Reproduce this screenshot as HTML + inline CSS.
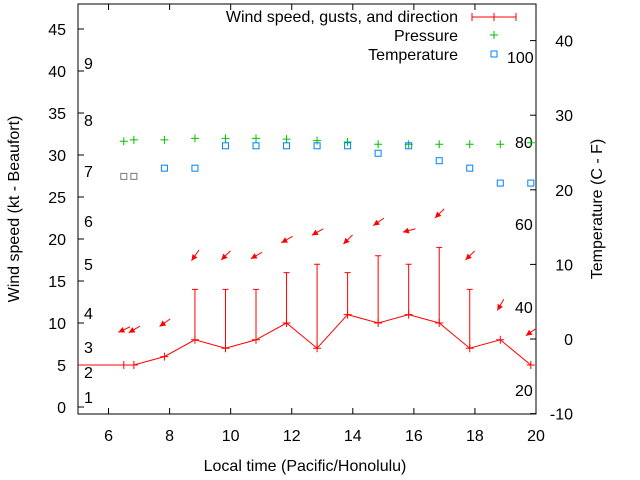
<!DOCTYPE html>
<html><head><meta charset="utf-8"><style>
body{margin:0;background:#fff;}
svg{display:block;font-family:"Liberation Sans",sans-serif;}
</style></head><body>
<svg id="chart" width="640" height="480" viewBox="0 0 640 480" xmlns="http://www.w3.org/2000/svg"></svg>
<script>
const times=[6.5,6.83,7.83,8.83,9.83,10.83,11.83,12.83,13.83,14.83,15.83,16.83,17.83,18.83,19.83];
const windSpeed=[5,5,6,8,7,8,10,7,11,10,11,10,7,8,5];
const gusts=[null,null,null,14,14,14,16,17,16,18,17,19,14,null,null];
const arrowPos=[9.2,9.2,10,18,18,18,19.9,20.8,19.9,22,21,23,18,12.1,8.9];
const windDir=[65,60,55,35,45,60,60,60,45,55,75,45,45,30,55];
const pressure=[26.5,26.7,26.7,26.9,26.9,26.9,26.8,26.6,26.4,26.1,26.1,26.1,26.1,26.1,26.3];
const temperature=[21.8,21.8,22.9,22.9,25.9,25.9,25.9,25.9,25.9,24.9,25.9,23.9,22.9,20.9,20.9];
const xTicks=[6,8,10,12,14,16,18,20];
const yTicks=[0,5,10,15,20,25,30,35,40,45];
const y2Ticks=[-10,0,10,20,30,40];
const beaufortLabels=[["1",397],["2",372],["3",347],["4",313],["5",264],["6",221],["7",171],["8",120],["9",63]];
const pressLabels=[["100",507,57],["80",515,142],["60",515,224],["40",515,307],["20",515,390]];

const L=78,R=536,T=4,B=414;
const FS=16;
const X=v=>L+(v-5)*(R-L)/15;
const Y=v=>407-v*8.4;
const Y2=v=>339-v*7.46;
const svg=document.getElementById('chart');
const NS='http://www.w3.org/2000/svg';
function mk(tag,attrs,parent){const e=document.createElementNS(NS,tag);for(const k in attrs)e.setAttribute(k,attrs[k]);(parent||svg).appendChild(e);return e;}
function txt(s,x,y,anchor,size,extra){const e=mk('text',Object.assign({x:x,y:y,'text-anchor':anchor||'middle','font-size':size||FS,fill:'#000'},extra||{}));e.textContent=s;return e;}

const fr=mk('rect',{x:L,y:T,width:R-L,height:B-T,fill:'none',stroke:'#000','stroke-width':1});



xTicks.forEach(v=>{
  const x=X(v);
  const t=mk('line',{x1:x,y1:B,x2:x,y2:B-6,stroke:'#000'});
  
  
  mk('line',{x1:x,y1:T,x2:x,y2:T+6,stroke:'#000'});
  const l=txt(String(v),x,441,'middle',FS);
  
  
});
yTicks.forEach(v=>{
  const y=Y(v);
  const t=mk('line',{x1:L,y1:y,x2:L+6,y2:y,stroke:'#000'});
  
  
  const l=txt(String(v),66,y+6,'end',FS);
  
  
});
y2Ticks.forEach(v=>{
  const y=Y2(v);
  const t=mk('line',{x1:R,y1:y,x2:R-6,y2:y,stroke:'#000'});
  
  
  const l=txt(String(v),573,y+6,'end',FS);
  
  
});
beaufortLabels.forEach(b=>{
  const l=txt(b[0],84,b[1]+6,'start',FS);
  
  
});
pressLabels.forEach(b=>{
  const l=txt(b[0],b[1],b[2]+6,'start',FS);
  
  
});

let t1=txt('Local time (Pacific/Honolulu)',305,471,'middle',FS);


let t2=txt('Wind speed (kt - Beaufort)',0,0,'middle',FS,{transform:'translate(19,209) rotate(-90)'});


let t3=txt('Temperature (C - F)',0,0,'middle',FS,{transform:'translate(602,209) rotate(-90)'});



let pts='M'+L+','+Y(windSpeed[0])+' '+times.map((t,i)=>'L'+X(t)+','+Y(windSpeed[i])).join(' ');
const wl=mk('path',{d:pts,fill:'none',stroke:'#f00','stroke-width':1});


times.forEach((t,i)=>{
  const x=X(t),y=Y(windSpeed[i]);
  const p=mk('path',{d:`M${x-4},${y}h8M${x},${y-4}v8`,stroke:'#f00'});
  
  
  if(gusts[i]!=null){
    const gy=Y(gusts[i]);
    const g=mk('path',{d:`M${x},${y}V${gy}M${x-3},${gy}h6`,stroke:'#f00',fill:'none'});
    
    
  }
  const a=windDir[i]*Math.PI/180;
  const dx=-Math.sin(a),dy=Math.cos(a);
  const cx=X(t),cy=Y(arrowPos[i]);
  const hx=cx+dx*6,hy=cy+dy*6,tx=cx-dx*7,ty=cy-dy*7;
  const px=-dy,py=dx;
  const ar=mk('g',{});
  
  
  mk('line',{x1:tx,y1:ty,x2:hx,y2:hy,stroke:'#f00'},ar);
  mk('polygon',{points:`${hx},${hy} ${hx-dx*6+px*3},${hy-dy*6+py*3} ${hx-dx*6-px*3},${hy-dy*6-py*3}`,fill:'#f00'},ar);
});
times.forEach((t,i)=>{
  const x=X(t),y=Y2(pressure[i]);
  const p=mk('path',{d:`M${x-4},${y}h8M${x},${y-4}v8`,stroke:'#00c000'});
  
  
});
times.forEach((t,i)=>{
  const x=X(t),y=Y2(temperature[i]);
  const r=mk('rect',{x:x-3,y:y-3,width:6,height:6,fill:'none',stroke:i<2?'#777':'#0080ff'});
  
  
});
const lg=mk('g',{});


let e1=txt('Wind speed, gusts, and direction',458,22,'end',FS);lg.appendChild(e1);


mk('path',{d:'M472,17h44M472,13v8M516,13v8M494,13v8',stroke:'#f00'},lg);
let e2=txt('Pressure',458,41,'end',FS);lg.appendChild(e2);


mk('path',{d:'M490,35h8M494,31v8',stroke:'#00c000'},lg);
let e3=txt('Temperature',458,60,'end',FS);lg.appendChild(e3);


mk('rect',{x:491,y:51,width:6,height:6,fill:'none',stroke:'#0080ff'},lg);
</script>
</body></html>
